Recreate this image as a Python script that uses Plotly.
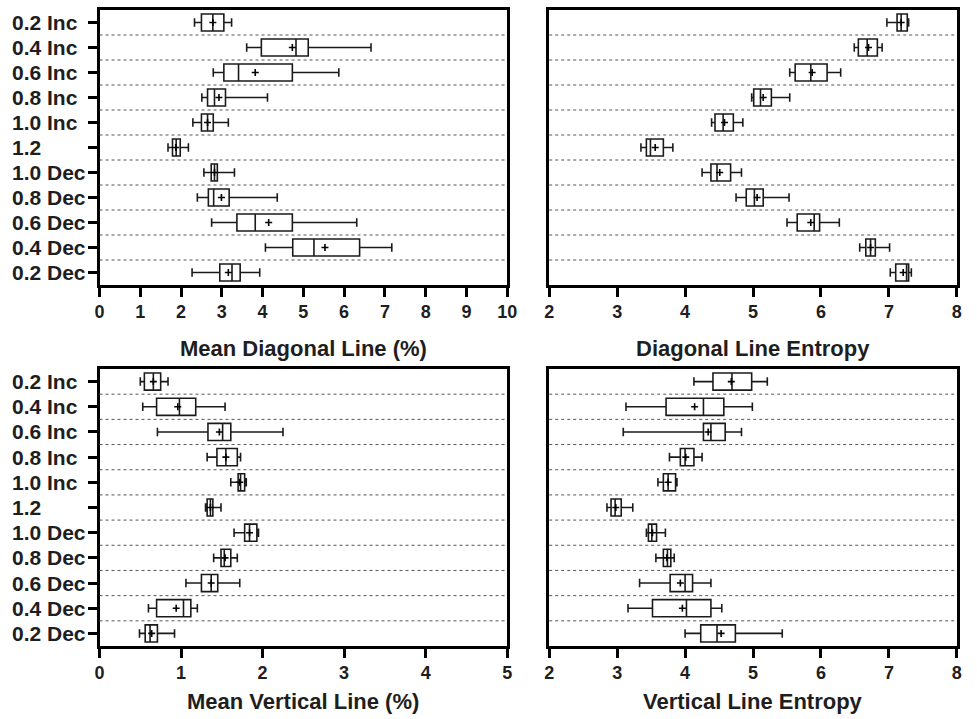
import plotly.graph_objects as go

categories = ["0.2 Inc", "0.4 Inc", "0.6 Inc", "0.8 Inc", "1.0 Inc", "1.2",
              "1.0 Dec", "0.8 Dec", "0.6 Dec", "0.4 Dec", "0.2 Dec"]

# Panel 1: Mean Diagonal Line (%)
diag_low = [2.33, 3.61, 2.79, 2.51, 2.29, 1.68, 2.56, 2.40, 2.75, 4.07, 2.27]
diag_q1 = [2.50, 3.97, 3.05, 2.65, 2.50, 1.79, 2.74, 2.67, 3.37, 4.74, 2.95]
diag_med = [2.78, 4.82, 3.41, 2.82, 2.65, 1.88, 2.82, 2.80, 3.82, 5.26, 3.25]
diag_q3 = [3.05, 5.12, 4.73, 3.09, 2.79, 1.98, 2.89, 3.18, 4.73, 6.38, 3.45]
diag_high = [3.24, 6.66, 5.87, 4.12, 3.16, 2.18, 3.31, 4.36, 6.31, 7.17, 3.93]
diag_mean = [2.78, 4.73, 3.82, 2.93, 2.65, 1.87, 2.82, 2.99, 4.15, 5.53, 3.16]

# Panel 2: Diagonal Line Entropy
dent_low = [6.97, 6.49, 5.54, 4.98, 4.39, 3.35, 4.25, 4.75, 5.50, 6.57, 7.02]
dent_q1 = [7.12, 6.55, 5.62, 5.01, 4.44, 3.43, 4.38, 4.90, 5.65, 6.66, 7.10]
dent_med = [7.18, 6.68, 5.85, 5.11, 4.56, 3.49, 4.47, 5.02, 5.90, 6.73, 7.26]
dent_q3 = [7.27, 6.83, 6.09, 5.27, 4.71, 3.68, 4.67, 5.15, 5.98, 6.80, 7.29]
dent_high = [7.29, 6.90, 6.29, 5.54, 4.85, 3.82, 4.83, 5.53, 6.27, 7.01, 7.33]
dent_mean = [7.18, 6.70, 5.87, 5.15, 4.58, 3.56, 4.51, 5.06, 5.85, 6.73, 7.21]

# Panel 3: Mean Vertical Line (%)
vert_low = [0.50, 0.53, 0.71, 1.32, 1.61, 1.30, 1.65, 1.40, 1.06, 0.60, 0.49]
vert_q1 = [0.55, 0.70, 1.33, 1.44, 1.70, 1.32, 1.78, 1.49, 1.25, 0.70, 0.56]
vert_med = [0.66, 0.98, 1.51, 1.55, 1.73, 1.36, 1.84, 1.53, 1.37, 1.03, 0.62]
vert_q3 = [0.75, 1.18, 1.61, 1.69, 1.78, 1.39, 1.93, 1.61, 1.45, 1.12, 0.71]
vert_high = [0.84, 1.54, 2.25, 1.73, 1.80, 1.49, 1.95, 1.69, 1.72, 1.20, 0.92]
vert_mean = [0.66, 0.96, 1.47, 1.55, 1.72, 1.36, 1.84, 1.54, 1.37, 0.94, 0.64]

# Panel 4: Vertical Line Entropy
vent_low = [4.13, 3.13, 3.09, 3.77, 3.60, 2.85, 3.43, 3.57, 3.33, 3.16, 4.00]
vent_q1 = [4.41, 3.72, 4.27, 3.93, 3.68, 2.91, 3.46, 3.68, 3.78, 3.52, 4.23]
vent_med = [4.69, 4.27, 4.38, 4.00, 3.75, 2.97, 3.51, 3.74, 4.00, 4.02, 4.47]
vent_q3 = [4.98, 4.57, 4.59, 4.13, 3.86, 3.06, 3.58, 3.79, 4.11, 4.38, 4.74]
vent_high = [5.21, 4.99, 4.83, 4.25, 3.88, 3.23, 3.71, 3.84, 4.38, 4.54, 5.43]
vent_mean = [4.68, 4.14, 4.34, 4.01, 3.75, 2.98, 3.52, 3.73, 3.93, 3.96, 4.53]

titles = ["Mean Diagonal Line (%)", "Diagonal Line Entropy",
          "Mean Vertical Line (%)", "Vertical Line Entropy"]
ranges = [[0, 10], [2, 8], [0, 5], [2, 8]]

panels = [
    (diag_low, diag_q1, diag_med, diag_q3, diag_high, diag_mean),
    (dent_low, dent_q1, dent_med, dent_q3, dent_high, dent_mean),
    (vert_low, vert_q1, vert_med, vert_q3, vert_high, vert_mean),
    (vent_low, vent_q1, vent_med, vent_q3, vent_high, vent_mean),
]

W, H = 977, 719
xdom = [[96 / W, 510 / W], [552.7 / W, 966.7 / W]]
ydom = [[1 - 285 / H, 1 - 10 / H], [1 - 646 / H, 1 - 369 / H]]

FONT = "Liberation Sans, Arial, sans-serif"
TXT = "#1e1e1e"

fig = go.Figure()
layout = dict(width=W, height=H, margin=dict(l=0, r=0, t=0, b=0),
              paper_bgcolor="white", plot_bgcolor="white", showlegend=False)
annotations = []
shapes = []

for i, (lo, q1, med, q3, hi, mn) in enumerate(panels):
    k = i + 1
    sfx = "" if k == 1 else str(k)
    xa, ya = "x" + sfx, "y" + sfx
    col = i % 2
    row = i // 2
    fig.add_trace(go.Box(
        y=categories, q1=q1, median=med, q3=q3, lowerfence=lo, upperfence=hi,
        orientation="h", xaxis=xa, yaxis=ya, fillcolor="white",
        line=dict(color="#1a1a1a", width=1.6), width=0.68, whiskerwidth=0.5,
        boxpoints=False, hoverinfo="skip"))
    fig.add_trace(go.Scatter(
        x=mn, y=categories, mode="markers", xaxis=xa, yaxis=ya,
        marker=dict(symbol="cross-thin", size=5, color="black",
                    line=dict(color="black", width=1.6)),
        hoverinfo="skip"))
    layout["xaxis" + sfx] = dict(
        domain=xdom[col], anchor=ya, range=ranges[i], dtick=1,
        showgrid=False, zeroline=False, showline=True, linecolor="black",
        linewidth=2.5, mirror=True, ticks="outside", ticklen=9, tickwidth=2.5,
        tickcolor="black",
        tickfont=dict(family=FONT, size=18, color=TXT, weight="bold"))
    layout["yaxis" + sfx] = dict(
        domain=ydom[row], anchor=xa, type="category",
        categoryorder="array", categoryarray=categories,
        range=[len(categories) - 0.5, -0.5],
        showgrid=False, zeroline=False, showline=True, linecolor="black",
        linewidth=2.5, mirror=True,
        ticks="outside" if col == 0 else "", ticklen=9, tickwidth=2.5,
        tickcolor="black", showticklabels=False)
    for j in range(len(categories) - 1):
        shapes.append(dict(type="line", xref=xa + " domain", yref=ya,
                           x0=0, x1=1, y0=j + 0.5, y1=j + 0.5,
                           line=dict(color="#555555", width=1, dash="dot")))
    if col == 0:
        for j, c in enumerate(categories):
            annotations.append(dict(
                x=5 / W, xref="paper", y=j, yref=ya, text=c, showarrow=False,
                xanchor="left", yanchor="middle",
                font=dict(family=FONT, size=21, color=TXT, weight="bold")))
    ty = 1 - (348 / H) if row == 0 else 1 - (701 / H)
    annotations.append(dict(
        x=(xdom[col][0] + xdom[col][1]) / 2, xref="paper", y=ty, yref="paper",
        text=titles[i], showarrow=False, xanchor="center", yanchor="middle",
        font=dict(family=FONT, size=22, color=TXT, weight="bold")))

layout["annotations"] = annotations
layout["shapes"] = shapes
fig.update_layout(**layout)
fig.write_html("out.html")
